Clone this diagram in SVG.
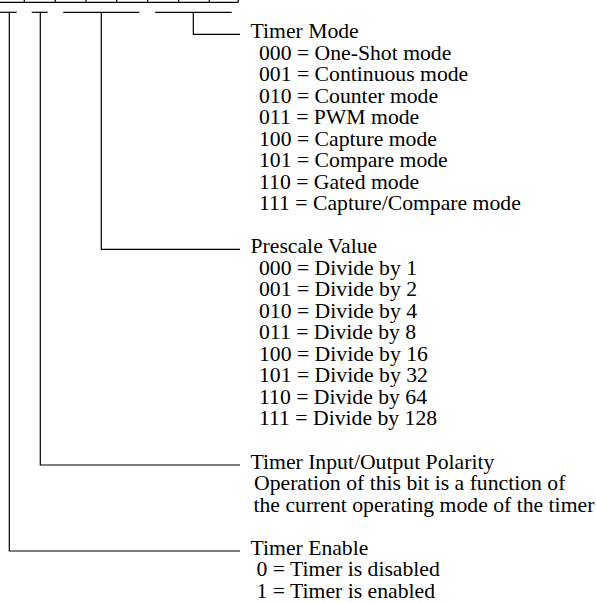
<svg xmlns="http://www.w3.org/2000/svg" width="596" height="603" viewBox="0 0 596 603">
<style>
.ln{stroke:#000;stroke-width:1.2;fill:none}
text{font-family:"Liberation Serif","Times New Roman",serif;font-size:21.7px;fill:#000}
</style>
<rect width="596" height="603" fill="#fff"/>
<g id="register" class="ln">
<line x1="0" y1="2.3" x2="238.3" y2="2.3"/>
<line x1="24.3" y1="-5" x2="24.3" y2="2.3"/>
<line x1="55.3" y1="-5" x2="55.3" y2="2.3"/>
<line x1="86" y1="-5" x2="86" y2="2.3"/>
<line x1="116.7" y1="-5" x2="116.7" y2="2.3"/>
<line x1="147.7" y1="-5" x2="147.7" y2="2.3"/>
<line x1="178.7" y1="-5" x2="178.7" y2="2.3"/>
<line x1="209.3" y1="-5" x2="209.3" y2="2.3"/>
<line x1="238.3" y1="-5" x2="238.3" y2="2.3"/>
</g>
<g id="connectors" class="ln">
<line x1="0" y1="12.3" x2="16.7" y2="12.3"/>
<line x1="31.7" y1="12.3" x2="47.7" y2="12.3"/>
<line x1="63.3" y1="12.3" x2="139.3" y2="12.3"/>
<line x1="155.3" y1="12.3" x2="231.7" y2="12.3"/>
<polyline points="193.3,12.3 193.3,34.3 240,34.3"/>
<polyline points="101.3,12.3 101.3,249.3 240,249.3"/>
<polyline points="40.3,12.3 40.3,465 240,465"/>
<polyline points="9.3,12.3 9.3,551 240,551"/>
</g>
<g id="timer-mode">
<text x="250.5" y="38">Timer Mode</text>
<text x="259" y="59.5">000 = One-Shot mode</text>
<text x="259" y="81">001 = Continuous mode</text>
<text x="259" y="102.5">010 = Counter mode</text>
<text x="259" y="124">011 = PWM mode</text>
<text x="259" y="145.5">100 = Capture mode</text>
<text x="259" y="167">101 = Compare mode</text>
<text x="259" y="188.5">110 = Gated mode</text>
<text x="259" y="210">111 = Capture/Compare mode</text>
</g>
<g id="prescale">
<text x="250.5" y="253">Prescale Value</text>
<text x="259" y="274.5">000 = Divide by 1</text>
<text x="259" y="296">001 = Divide by 2</text>
<text x="259" y="317.5">010 = Divide by 4</text>
<text x="259" y="339">011 = Divide by 8</text>
<text x="259" y="360.5">100 = Divide by 16</text>
<text x="259" y="382">101 = Divide by 32</text>
<text x="259" y="403.5">110 = Divide by 64</text>
<text x="259" y="425">111 = Divide by 128</text>
</g>
<g id="polarity">
<text x="250.5" y="468.5">Timer Input/Output Polarity</text>
<text x="254" y="490">Operation of this bit is a function of</text>
<text x="253.5" y="511.5">the current operating mode of the timer</text>
</g>
<g id="enable">
<text x="250.5" y="554.5">Timer Enable</text>
<text x="256.5" y="576">0 = Timer is disabled</text>
<text x="256.5" y="597.5">1 = Timer is enabled</text>
</g>
</svg>
